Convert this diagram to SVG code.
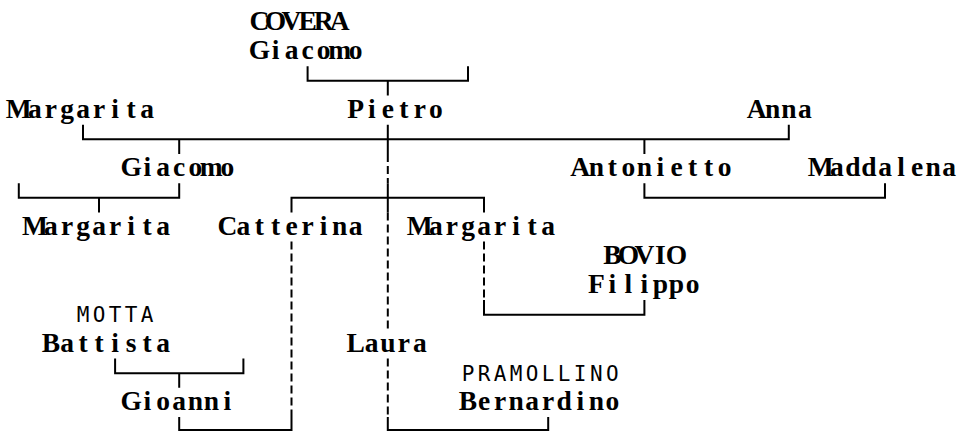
<svg xmlns="http://www.w3.org/2000/svg" width="960" height="432" viewBox="0 0 960 432">
<style>
.n{font-family:"Liberation Serif","DejaVu Serif",serif;font-size:27.5px;font-weight:bold;fill:#000;text-anchor:middle}
.s{font-family:"DejaVu Sans Mono","Liberation Mono",monospace;font-size:21px;fill:#000;text-anchor:middle}
.c{fill:none;stroke:#000;stroke-width:2}
.d{fill:none;stroke:#000;stroke-width:2;stroke-dasharray:8 4}
</style>
<rect width="960" height="432" fill="#fff"/>
<g id="connectors">
<path class="c" d="M307.6,66.2V80.8H468V66.2M387.8,80.8V95.5"/>
<path class="c" d="M83,124.7V139.3H788.8V124.7M387.8,124.7V153.9M179.2,139.3V153.9M644.4,139.3V153.9"/>
<path class="c" d="M18.8,183.2V197.8H179.2V183.2M99,197.8V212.4"/>
<path class="c" d="M644.4,183.2V197.8H885V183.2"/>
<path class="c" d="M291.5,212.4V197.8H484V212.4M387.8,183.2V212.4"/>
<path class="d" d="M387.8,153.9V183.2M387.8,212.4V329.3M387.8,358.6V417"/>
<path class="d" d="M484,241.6V300.1M291.5,241.6V417"/>
<path class="c" d="M484,300.1V314.7H644.4V300.1"/>
<path class="c" d="M115.1,358.6V373.2H243.4V358.6M179.2,373.2V387.8"/>
<path class="c" d="M179.2,417V430H291.5V417"/>
<path class="c" d="M387.8,417V430H548.2V417"/>
</g>
<g id="covera-giacomo"><text class="n" y="30" x="259.4 275.5 291.5 307.6 323.6 339.6">COVERA</text><text class="n" y="59.2" x="259.4 275.5 291.5 307.6 323.6 339.6 355.7">Giacomo</text></g>
<g id="margarita-1"><text class="n" y="117.7" x="18.8 34.9 50.9 67 83 99 115.1 131.1 147.2">Margarita</text></g>
<g id="pietro"><text class="n" y="117.7" x="355.7 371.7 387.8 403.8 419.8 435.9">Pietro</text></g>
<g id="anna"><text class="n" y="117.7" x="756.7 772.7 788.8 804.8">Anna</text></g>
<g id="giacomo"><text class="n" y="176.2" x="131.1 147.2 163.2 179.2 195.3 211.3 227.4">Giacomo</text></g>
<g id="antonietto"><text class="n" y="176.2" x="580.2 596.3 612.3 628.4 644.4 660.4 676.5 692.5 708.6 724.6">Antonietto</text></g>
<g id="maddalena"><text class="n" y="176.2" x="820.8 836.9 852.9 869 885 901 917.1 933.1 949.2">Maddalena</text></g>
<g id="margarita-2"><text class="n" y="234.6" x="34.9 50.9 67 83 99 115.1 131.1 147.2 163.2">Margarita</text></g>
<g id="catterina"><text class="n" y="234.6" x="227.4 243.4 259.4 275.5 291.5 307.6 323.6 339.6 355.7">Catterina</text></g>
<g id="margarita-3"><text class="n" y="234.6" x="419.8 435.9 451.9 468 484 500 516.1 532.1 548.2">Margarita</text></g>
<g id="bovio-filippo"><text class="n" y="263.8" x="612.3 628.4 644.4 660.4 676.5">BOVIO</text><text class="n" y="293.1" x="596.3 612.3 628.4 644.4 660.4 676.5 692.5">Filippo</text></g>
<g id="motta-battista"><text class="s" y="322.3" x="83 99 115.1 131.1 147.2">MOTTA</text><text class="n" y="351.5" x="50.9 67 83 99 115.1 131.1 147.2 163.2">Battista</text></g>
<g id="laura"><text class="n" y="351.5" x="355.7 371.7 387.8 403.8 419.8">Laura</text></g>
<g id="pramollino-bernardino"><text class="s" y="380.8" x="468 484 500 516.1 532.1 548.2 564.2 580.2 596.3 612.3">PRAMOLLINO</text><text class="n" y="410" x="468 484 500 516.1 532.1 548.2 564.2 580.2 596.3 612.3">Bernardino</text></g>
<g id="gioanni"><text class="n" y="410" x="131.1 147.2 163.2 179.2 195.3 211.3 227.4">Gioanni</text></g>
</svg>
